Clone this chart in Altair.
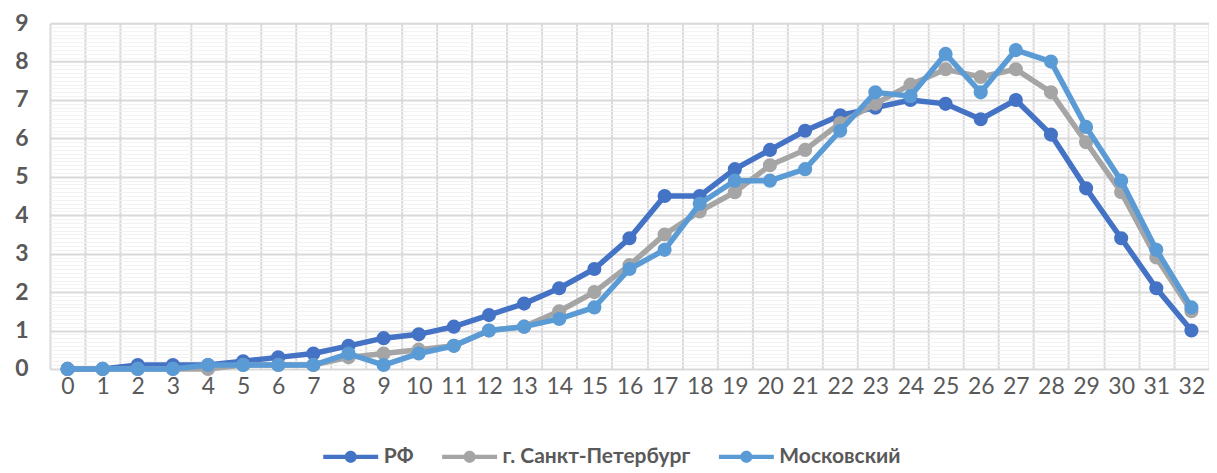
import altair as alt
import pandas as pd

categories = list(range(33))
rf = [0, 0, 0.1, 0.1, 0.1, 0.2, 0.3, 0.4, 0.6, 0.8, 0.9, 1.1, 1.4, 1.7, 2.1, 2.6, 3.4, 4.5, 4.5, 5.2,
      5.7, 6.2, 6.6, 6.8, 7.0, 6.9, 6.5, 7.0, 6.1, 4.7, 3.4, 2.1, 1.0]
spb = [0, 0, 0, 0, 0, 0.1, 0.1, 0.1, 0.3, 0.4, 0.5, 0.6, 1.0, 1.1, 1.5, 2.0, 2.7, 3.5, 4.1, 4.6,
       5.3, 5.7, 6.4, 6.9, 7.4, 7.8, 7.6, 7.8, 7.2, 5.9, 4.6, 2.9, 1.5]
msk = [0, 0, 0, 0, 0.1, 0.1, 0.1, 0.1, 0.4, 0.1, 0.4, 0.6, 1.0, 1.1, 1.3, 1.6, 2.6, 3.1, 4.3, 4.9,
       4.9, 5.2, 6.2, 7.2, 7.1, 8.2, 7.2, 8.3, 8.0, 6.3, 4.9, 3.1, 1.6]
series_names = ["РФ", "г. Санкт-Петербург", "Московский"]
series_colors = ["#4472C4", "#A5A5A5", "#5B9BD5"]

rows = []
for name, vals in zip(series_names, [rf, spb, msk]):
    for c, v in zip(categories, vals):
        rows.append({"cat": c, "value": v, "series": name})
df = pd.DataFrame(rows)

FONT = "Lato"
TXT = "#595959"
y_ticks = [round(i * 0.1, 1) for i in range(91)]

# legend glyph: a line with a dot, drawn 4 units wide (2x the symbol box)
legend_path = ("M -2 -0.15 L 2 -0.15 L 2 0.15 L -2 0.15 Z "
               "M 0.44 0 A 0.44 0.44 0 1 1 -0.44 0 A 0.44 0.44 0 1 1 0.44 0 Z")

is_int = "abs(datum.value - round(datum.value)) < 0.001"

x_enc = alt.X("cat:O", sort=categories,
              scale=alt.Scale(type="band", paddingInner=0, paddingOuter=0),
              axis=alt.Axis(title=None, labelAngle=0, tickBand="extent", ticks=False, domain=False,
                            grid=True, gridColor="#d9d9d9", gridWidth=2,
                            labelFont=FONT, labelFontSize=23, labelColor=TXT, labelPadding=7))
y_enc = alt.Y("value:Q", scale=alt.Scale(domain=[0, 9], nice=False),
              axis=alt.Axis(title=None, values=y_ticks, ticks=False, domain=False,
                            labelExpr=is_int + " ? format(datum.value, 'd') : ''",
                            labelOverlap=False, labelFont=FONT, labelFontSize=23, labelFontWeight="bold",
                            labelColor=TXT, labelPadding=22,
                            gridColor={"condition": {"test": is_int, "value": "#d9d9d9"}, "value": "#f2f2f2"},
                            gridWidth={"condition": {"test": is_int, "value": 2}, "value": 1}))
color_enc = alt.Color("series:N", scale=alt.Scale(domain=series_names, range=series_colors),
                      sort=series_names,
                      legend=alt.Legend(title=None, orient="none", direction="horizontal",
                                        legendX=287, legendY=420,
                                        symbolType=legend_path, symbolSize=756, symbolStrokeWidth=0,
                                        symbolOpacity=1,
                                        labelFont=FONT, labelFontSize=21, labelFontWeight="bold",
                                        labelColor=TXT, columnPadding=28,
                                        labelOffset=19, labelLimit=400))

layers = []
for name in series_names:
    base = alt.Chart(df).transform_filter(alt.datum.series == name)
    layers.append(base.mark_line(strokeWidth=5.5).encode(x=x_enc, y=y_enc, color=color_enc,
                                                         order=alt.Order("cat:Q")))
    layers.append(base.mark_circle(size=200, opacity=1).encode(x=x_enc, y=y_enc, color=color_enc))

chart = alt.layer(*layers).properties(
    width=1160, height=346,
    padding={"left": 6, "top": 4, "right": 0, "bottom": 0},
).configure_view(stroke=None)

chart.save("out.html", embed_options={"renderer": "svg", "actions": False})
